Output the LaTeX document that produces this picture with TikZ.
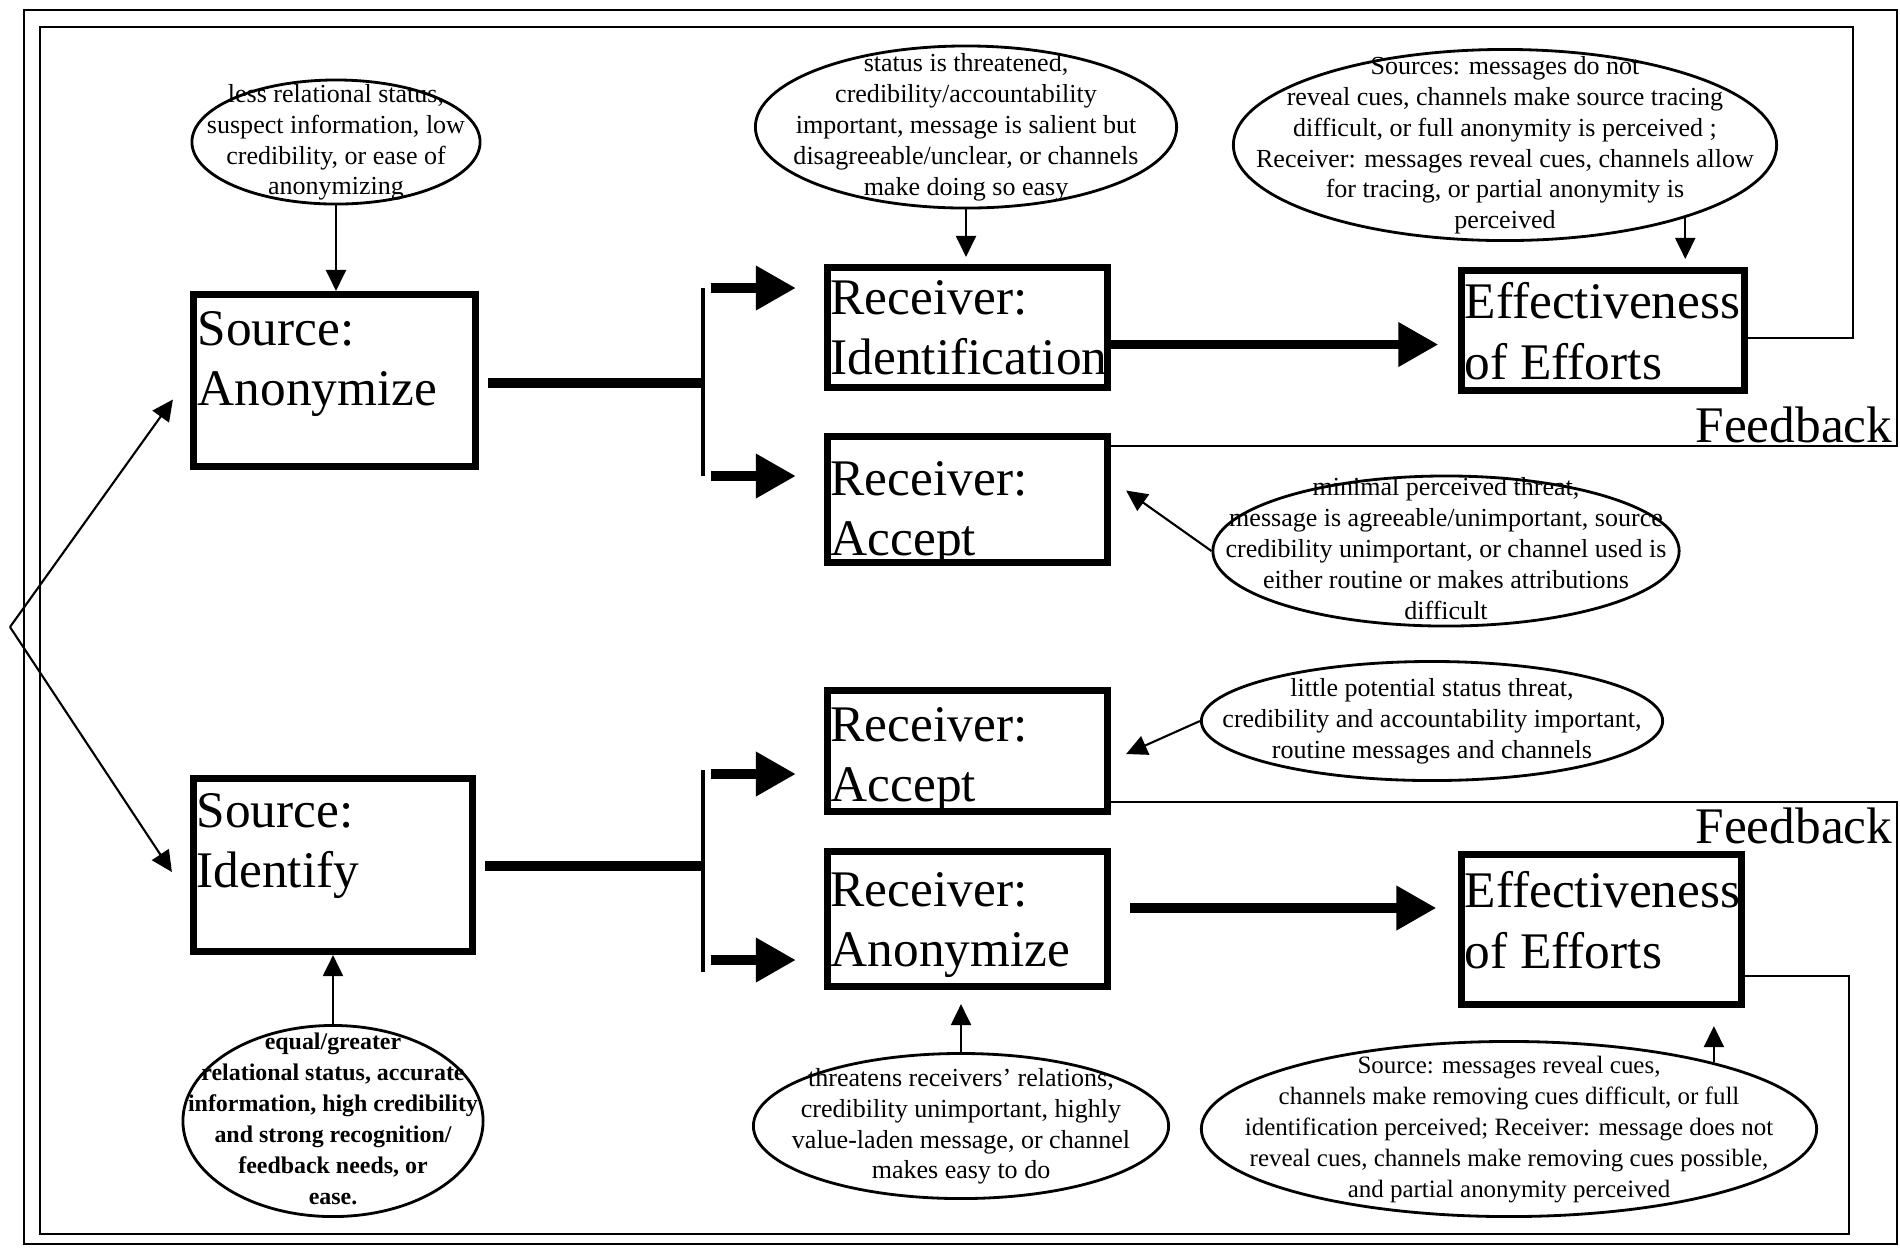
\documentclass[tikz,border=0pt]{standalone}
\usepackage{fontspec}
\setmainfont{Liberation Serif}
\usetikzlibrary{shapes.geometric,arrows.meta}
\newcommand{\etxt}[1]{\smash{\makebox[0pt]{\raisebox{-0.25em}{\begin{tabular}{@{}c@{}}#1\end{tabular}}}}}

\begin{document}
\begin{tikzpicture}[x=0.01cm, y=-0.01cm,
    box/.style={draw, rectangle, line width=2pt, inner sep=0pt},
    boxtxt/.style={anchor=north west, inner sep=0pt, align=left, font=\fontsize{14.6}{17.1}\selectfont},
    ell/.style={draw, ellipse, line width=0.8pt, inner sep=0pt, font=\fontsize{7.4}{8.8}\selectfont},
    arr/.style={-{Triangle[length=0.21cm,width=0.2cm]}, line width=0.6pt},
    fat/.style={-{Triangle[length=0.4cm,width=0.42cm]}, line width=2.8pt},
    fatline/.style={line width=2.8pt},
    bar/.style={line width=0.9pt},
    fb/.style={line width=0.75pt}]
\useasboundingbox (0,0) rectangle (1900,1247);

\node(SA) [box, minimum width=2.82cm, minimum height=1.72cm] at (334.5,380.5) {};
\node(SI) [box, minimum width=2.79cm, minimum height=1.73cm] at (333,865) {};
\node(RI) [box, minimum width=2.80cm, minimum height=1.20cm] at (967.5,327.5) {};
\node(RA1) [box, minimum width=2.80cm, minimum height=1.26cm] at (967.5,499.5) {};
\node(RA2) [box, minimum width=2.80cm, minimum height=1.21cm] at (967.5,751) {};
\node(RN) [box, minimum width=2.80cm, minimum height=1.35cm] at (967.5,919) {};
\node(E1) [box, minimum width=2.83cm, minimum height=1.20cm] at (1603,330.5) {};
\node(E2) [box, minimum width=2.80cm, minimum height=1.50cm] at (1601.5,929.5) {};

\node(SAt) [boxtxt] at (197,311) {Source:\\Anonymize};
\node(SIt) [boxtxt] at (196,793) {Source:\\Identify};
\node(RIt) [boxtxt] at (830,280) {Receiver:\\Identification};
\node(RA1t) [boxtxt] at (830,461) {Receiver:\\Accept};
\node(RA2t) [boxtxt] at (830,707) {Receiver:\\Accept};
\node(RNt) [boxtxt] at (830,872) {Receiver:\\Anonymize};
\node(E1t) [boxtxt] at (1464,282) {Effectiveness\\of Efforts};
\node(E2t) [boxtxt] at (1464,871) {Effectiveness\\of Efforts};
\node(fb1) [anchor=base east, inner sep=0pt, font=\fontsize{14.6}{17.1}\selectfont] at (1893,442) {Feedback};
\node(fb2) [anchor=base east, inner sep=0pt, font=\fontsize{14.6}{17.1}\selectfont] at (1893,843) {Feedback};

\node(EA) [ell, minimum width=2.88cm, minimum height=1.24cm] at (336,142)
    {\etxt{less relational status,\\suspect information, low\\credibility, or ease of\\anonymizing}};
\node(ER1) [ell, minimum width=4.21cm, minimum height=1.62cm] at (966,127)
    {\etxt{status is threatened,\\credibility/accountability\\important, message is salient but\\disagreeable/unclear, or channels\\make doing so easy}};
\node(EE1) [ell, minimum width=5.43cm, minimum height=1.91cm] at (1505,145)
    {\etxt{Sources: messages do not\\reveal cues, channels make source tracing\\difficult, or full anonymity is perceived ;\\Receiver: messages reveal cues, channels allow\\for tracing, or partial anonymity is\\perceived}};
\node(EM) [ell, minimum width=4.66cm, minimum height=1.50cm] at (1446,551)
    {\etxt{minimal perceived threat,\\message is agreeable/unimportant, source\\credibility unimportant, or channel used is\\either routine or makes attributions\\difficult}};
\node(EL) [ell, minimum width=4.61cm, minimum height=1.19cm] at (1432,721)
    {\etxt{little potential status threat,\\credibility and accountability important,\\routine messages and channels}};
\node(EI) [ell, minimum width=3.00cm, minimum height=1.91cm, font=\fontsize{6.8}{8.8}\selectfont\bfseries] at (333,1121)
    {\etxt{equal/greater\\relational status, accurate\\information, high credibility\\and strong recognition/\\feedback needs, or\\ease.}};
\node(ET) [ell, minimum width=4.15cm, minimum height=1.45cm] at (961,1126)
    {\etxt{threatens receivers' relations,\\credibility unimportant, highly\\value-laden message, or channel\\makes easy to do}};
\node(ES) [ell, minimum width=6.15cm, minimum height=1.75cm, font=\fontsize{7.1}{8.8}\selectfont] at (1509,1129)
    {\etxt{Source: messages reveal cues,\\channels make removing cues difficult, or full\\identification perceived; Receiver: message does not\\reveal cues, channels make removing cues possible,\\and partial anonymity perceived}};

\draw[arr] (EA.south) -- (EA.south |- SA.north);
\draw[arr, shorten >=0.07cm] (ER1.south) -- (ER1.south |- RI.north);
\draw[arr, shorten >=0.08cm] (EE1.-22) -- (EE1.-22 |- E1.north);
\draw[arr] (EM.west) -- ([shift={(15,-9)}]RA1.east);
\draw[arr] (EL.west) -- ([shift={(15,3)}]RA2.east);
\draw[arr] (EI.north) -- (EI.north |- SI.south);
\draw[arr, shorten >=0.14cm] (ET.north) -- (ET.north |- RN.south);
\draw[arr, shorten >=0.18cm] (ES.18.4) -- (ES.18.4 |- E2.south);

\coordinate (split) at (10,627);
\draw[arr] (split) -- ([shift={(-17,19)}]SA.west);
\draw[arr] (split) -- ([shift={(-18,7)}]SI.west);

\coordinate (b1t) at (703,288);
\coordinate (b1m) at (703,383);
\coordinate (b1b) at (703,476);
\draw[fatline, shorten <=0.09cm] (SA.east |- b1m) -- (b1m);
\draw[bar] (b1t) -- (b1b);
\draw[fat, shorten <=0.08cm, shorten >=0.28cm] (b1t) -- (b1t -| RI.west);
\draw[fat, shorten <=0.08cm, shorten >=0.28cm] (b1b) -- (b1b -| RA1.west);

\coordinate (b2t) at (703,770);
\coordinate (b2m) at (703,866);
\coordinate (b2b) at (703,972);
\coordinate (a2t) at (703,774);
\coordinate (a2b) at (703,960);
\draw[fatline, shorten <=0.09cm] (SI.east |- b2m) -- (b2m);
\draw[bar] (b2t) -- (b2b);
\draw[fat, shorten <=0.08cm, shorten >=0.28cm] (a2t) -- (a2t -| RA2.west);
\draw[fat, shorten <=0.08cm, shorten >=0.28cm] (a2b) -- (a2b -| RN.west);

\coordinate (f1) at ([yshift=-0.17cm]RI.east);
\coordinate (f2) at ([yshift=0.11cm]RN.east);
\draw[fat, shorten >=0.195cm] (f1) -- (f1 -| E1.west);
\draw[fat, shorten <=0.19cm, shorten >=0.215cm] (f2) -- (f2 -| E2.west);

\coordinate (o1) at (1897,446);
\coordinate (o2) at (1897,802);
\draw[fb] (RA1.east |- o1) -- (o1) -- (1897,10) -- (24,10) -- (24,1244) -- (1897,1244) -- (o2) -- (RA2.east |- o2);
\coordinate (i1) at (1853,338);
\coordinate (i2) at (1849,976);
\draw[fb] (E1.east |- i1) -- (i1) -- (1853,27) -- (40,27) -- (40,1234) -- (1849,1234) -- (i2) -- (E2.east |- i2);
\end{tikzpicture}
\end{document}
